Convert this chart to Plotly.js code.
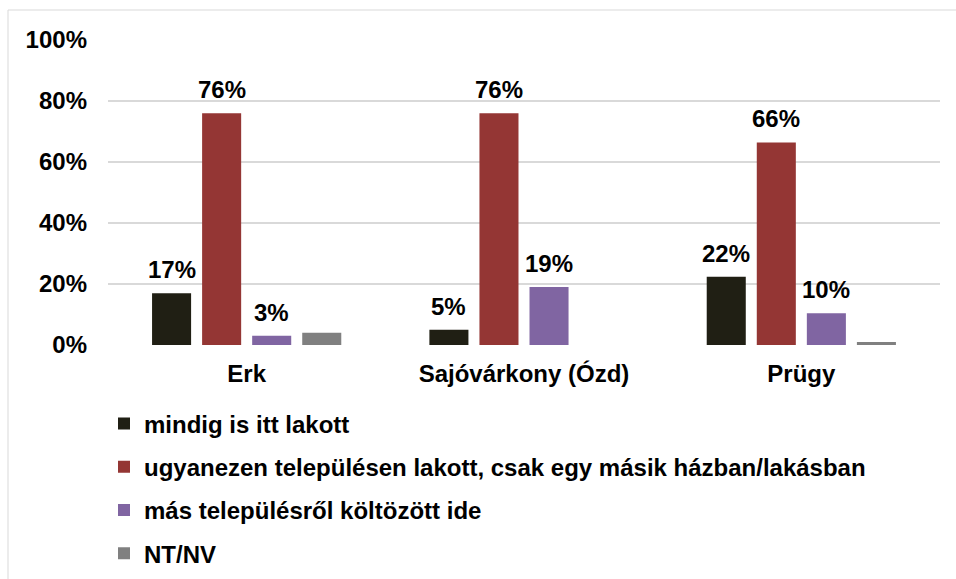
<!DOCTYPE html>
<html>
<head>
<meta charset="utf-8">
<script src="https://cdn.plot.ly/plotly-3.0.1.min.js"></script>
<style>
html, body { margin: 0; padding: 0; background: #ffffff; }
#chart { width: 956px; height: 579px; }
</style>
</head>
<body>
<div id="chart"></div>
<script>
var categories = ['Erk', 'Sajóvárkony (Ózd)', 'Prügy'];
var seriesNames = [
  'mindig is itt lakott',
  'ugyanezen településen lakott, csak egy másik házban/lakásban',
  'más településről költözött ide',
  'NT/NV'
];
var mindig = [17, 5, 22.4];
var ugyanezen = [76, 76, 66.4];
var mas = [3, 19, 10.4];
var ntnv = [4, 0, 1];
var labelMindig = ['17%', '5%', '22%'];
var labelUgyanezen = ['76%', '76%', '66%'];
var labelMas = ['3%', '19%', '10%'];
var labelNtnv = ['', '', ''];
var yTickVals = [0, 20, 40, 60, 80, 100];
var yTickText = ['0%', '20%', '40%', '60%', '80%', '100%'];

var colors = ['#201f14', '#943634', '#8065a2', '#808080'];
var seriesValues = [mindig, ugyanezen, mas, ntnv];
var seriesLabels = [labelMindig, labelUgyanezen, labelMas, labelNtnv];

var FONT = 'Liberation Sans, Arial, sans-serif';
var FS = 24;
var bargap = 0.278;

var traces = seriesValues.map(function (vals, j) {
  return {
    type: 'bar',
    name: seriesNames[j],
    x: categories,
    y: vals,
    marker: { color: colors[j] },
    legendgroup: 'g' + j,
    hoverinfo: 'skip'
  };
});

var annotations = [];
var nS = seriesValues.length;
seriesValues.forEach(function (vals, j) {
  vals.forEach(function (v, i) {
    var lbl = seriesLabels[j][i];
    if (!lbl) return;
    var offset = (j - (nS - 1) / 2) * (1 - bargap) / nS;
    annotations.push({
      x: i + offset,
      y: v,
      xref: 'x',
      yref: 'y',
      text: '<b>' + lbl + '</b>',
      showarrow: false,
      yanchor: 'bottom',
      yshift: 8,
      font: { family: FONT, size: FS, color: '#000000' }
    });
  });
});

var layout = {
  width: 956,
  height: 579,
  margin: { l: 108, r: 16, t: 40, b: 234, autoexpand: false },
  paper_bgcolor: '#ffffff',
  plot_bgcolor: '#ffffff',
  barmode: 'group',
  bargap: bargap,
  bargroupgap: 0.22,
  font: { family: FONT, size: FS, color: '#000000' },
  xaxis: {
    type: 'category',
    showgrid: false,
    zeroline: false,
    showline: false,
    ticks: '',
    tickfont: { family: FONT, size: FS, color: '#000000', weight: 'bold' },
    ticklabelstandoff: 12
  },
  yaxis: {
    range: [0, 100],
    tickvals: yTickVals,
    ticktext: yTickText,
    showgrid: true,
    gridcolor: '#d9d9d9',
    gridwidth: 1.5,
    zeroline: false,
    showline: false,
    ticks: '',
    ticklabelstandoff: 20,
    tickfont: { family: FONT, size: FS, color: '#000000', weight: 'bold' }
  },
  showlegend: true,
  legend: {
    orientation: 'v',
    x: (104 - 108) / 832,
    xanchor: 'left',
    y: -0.185,
    yanchor: 'top',
    tracegroupgap: 9,
    font: { family: FONT, size: FS, color: '#000000', weight: 'bold' },
    bgcolor: 'rgba(0,0,0,0)'
  },
  annotations: annotations,
  shapes: [{
    type: 'rect',
    xref: 'paper', yref: 'paper',
    x0: (8 - 108) / 832, x1: 1.1,
    y0: -1.2, y1: (345 - 10) / 305,
    line: { color: '#d9d9d9', width: 1 },
    fillcolor: 'rgba(0,0,0,0)',
    layer: 'below'
  }]
};

Plotly.newPlot('chart', traces, layout, { displayModeBar: false, staticPlot: true });
</script>
</body>
</html>
